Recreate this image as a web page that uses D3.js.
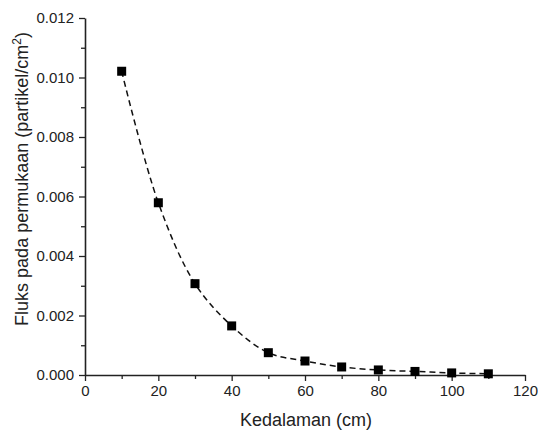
<!DOCTYPE html>
<html>
<head>
<meta charset="utf-8">
<script src="https://cdn.jsdelivr.net/npm/d3@7"></script>
<style>
  body { margin: 0; background: #fff; }
  text { font-family: "Liberation Sans", Arial, sans-serif; fill: #222; }
</style>
</head>
<body>
<script>
onload = function () {

  var width = 538,
      height = 432;

  // kedalaman (cm) vs fluks
  var depth = [10, 20, 30, 40, 50, 60, 70, 80, 90, 100, 110];
  var flux  = [0.01021, 0.00579, 0.00307, 0.00165, 0.00075, 0.00047, 0.00027, 0.00017, 0.00012, 0.00007, 0.00004];

  var xTicks = [0, 20, 40, 60, 80, 100, 120];
  var xMinor = [10, 30, 50, 70, 90, 110];
  var yTicks = [0, 0.002, 0.004, 0.006, 0.008, 0.010, 0.012];
  var yMinor = [0.001, 0.003, 0.005, 0.007, 0.009, 0.011];

  var svg = d3.select("body").append("svg")
              .attr("width", width)
              .attr("height", height);

  var xScale = d3.scaleLinear().domain([0, 120]).range([85, 525]);
  var yScale = d3.scaleLinear().domain([0, 0.012]).range([375, 18]);

  // minor ticks
  svg.append("g")
    .attr("transform", "translate(0,375)")
    .call(d3.axisBottom(xScale).tickValues(xMinor).tickSize(4).tickFormat(""))
    .call(function (g) { g.select(".domain").remove(); })
    .selectAll("line").attr("stroke", "#222").attr("stroke-width", 1.3);

  svg.append("g")
    .attr("transform", "translate(85,0)")
    .call(d3.axisLeft(yScale).tickValues(yMinor).tickSize(4).tickFormat(""))
    .call(function (g) { g.select(".domain").remove(); })
    .selectAll("line").attr("stroke", "#222").attr("stroke-width", 1.3);

  // major axes
  var xAxis = svg.append("g")
    .attr("transform", "translate(0,375)")
    .call(d3.axisBottom(xScale).tickValues(xTicks).tickSize(6).tickSizeOuter(0).tickPadding(4).tickFormat(d3.format("d")));

  var yAxis = svg.append("g")
    .attr("transform", "translate(85,0)")
    .call(d3.axisLeft(yScale).tickValues(yTicks).tickSize(6).tickSizeOuter(0).tickPadding(5).tickFormat(d3.format(".3f")));

  [xAxis, yAxis].forEach(function (g) {
    g.select(".domain").attr("stroke", "#222").attr("stroke-width", 1.6);
    g.selectAll(".tick line").attr("stroke", "#222").attr("stroke-width", 1.3);
    g.selectAll(".tick text")
      .style("font-family", "'Liberation Sans', Arial, sans-serif")
      .style("font-size", "15px")
      .attr("fill", "#222");
  });

  // dashed smooth curve
  var line = d3.line()
    .x(function (d, i) { return xScale(depth[i]); })
    .y(function (d) { return yScale(d); })
    .curve(d3.curveCatmullRom);

  svg.append("path")
    .attr("d", line(flux))
    .attr("fill", "none")
    .attr("stroke", "#111")
    .attr("stroke-width", 1.5)
    .attr("stroke-dasharray", "6,4");

  svg.selectAll("rect.pt")
    .data(flux)
    .enter().append("rect")
    .attr("class", "pt")
    .attr("x", function (d, i) { return xScale(depth[i]) - 4.5; })
    .attr("y", function (d) { return yScale(d) - 4.5; })
    .attr("width", 9)
    .attr("height", 9)
    .attr("fill", "#000");

  // axis titles
  svg.append("text")
    .attr("x", 306)
    .attr("y", 426)
    .attr("text-anchor", "middle")
    .style("font-size", "18px")
    .text("Kedalaman (cm)");

  var yt = svg.append("text")
    .attr("transform", "translate(28,179) rotate(-90)")
    .attr("text-anchor", "middle")
    .style("font-size", "18px");
  yt.append("tspan").text("Fluks pada permukaan (partikel/cm");
  yt.append("tspan").attr("dy", -7).style("font-size", "12px").text("2");
  yt.append("tspan").attr("dy", 7).text(")");

}
</script>
</body>
</html>
